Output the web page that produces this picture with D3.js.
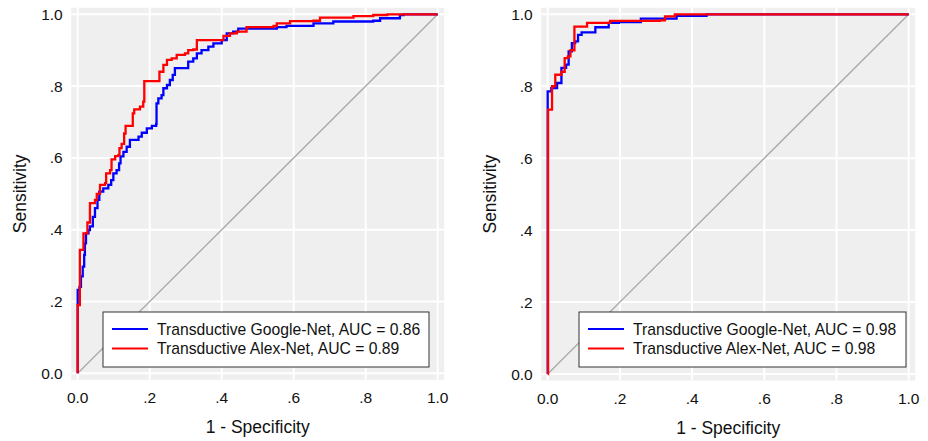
<!DOCTYPE html>
<html>
<head>
<meta charset="utf-8">
<script src="https://cdn.jsdelivr.net/npm/d3@7"></script>
<style>
  body { margin: 0; background: #fff; }
  svg { font-family: Arial, "Liberation Sans", sans-serif; }
</style>
</head>
<body>
<svg id="chart" width="928" height="441"></svg>
<script>
const svg = d3.select("#chart");

const TICKS = [0, 0.2, 0.4, 0.6, 0.8, 1.0];
const TICK_LABELS = ["0.0", ".2", ".4", ".6", ".8", "1.0"];
const SERIES_NAMES = ["Transductive Google-Net", "Transductive Alex-Net"];
const COLORS = ["#0000ff", "#ff0000"];

// left panel: AUC labels, then ROC points [1 - specificity, sensitivity]
const leftAUC = ["0.86", "0.89"];
const leftGoogle = [
    [0, 0], [0, 0.232], [0.005, 0.241], [0.009, 0.27], [0.014, 0.297], [0.018, 0.33],
    [0.02, 0.362], [0.023, 0.39], [0.03, 0.399], [0.034, 0.409], [0.042, 0.436],
    [0.048, 0.46], [0.055, 0.483], [0.06, 0.506], [0.071, 0.515], [0.085, 0.525],
    [0.093, 0.538], [0.099, 0.557], [0.108, 0.566], [0.115, 0.585], [0.119, 0.604],
    [0.127, 0.617], [0.136, 0.631], [0.145, 0.65], [0.169, 0.659], [0.178, 0.67],
    [0.192, 0.682], [0.206, 0.689], [0.218, 0.695], [0.219, 0.752], [0.224, 0.766],
    [0.233, 0.775], [0.238, 0.794], [0.248, 0.803], [0.256, 0.817], [0.264, 0.831],
    [0.27, 0.85], [0.298, 0.85], [0.307, 0.868], [0.321, 0.877], [0.331, 0.891],
    [0.344, 0.9], [0.363, 0.91], [0.377, 0.919], [0.4, 0.928], [0.414, 0.947],
    [0.432, 0.952], [0.446, 0.96], [0.553, 0.964], [0.58, 0.968], [0.655, 0.975],
    [0.71, 0.98], [0.821, 0.982], [0.84, 0.989], [0.895, 0.998], [0.905, 1], [1, 1]
];
const leftAlex = [
    [0, 0], [0, 0.19], [0.006, 0.344], [0.016, 0.39], [0.027, 0.42], [0.034, 0.474],
    [0.048, 0.483], [0.053, 0.5], [0.062, 0.525], [0.076, 0.53], [0.079, 0.557],
    [0.09, 0.566], [0.094, 0.596], [0.104, 0.605], [0.113, 0.608], [0.116, 0.627],
    [0.122, 0.639], [0.129, 0.668], [0.133, 0.689], [0.145, 0.689], [0.153, 0.724],
    [0.157, 0.735], [0.173, 0.743], [0.182, 0.757], [0.185, 0.814], [0.224, 0.814],
    [0.227, 0.84], [0.238, 0.859], [0.248, 0.873], [0.261, 0.877], [0.275, 0.887],
    [0.298, 0.891], [0.307, 0.9], [0.321, 0.902], [0.331, 0.928], [0.395, 0.928],
    [0.405, 0.94], [0.423, 0.947], [0.442, 0.952], [0.469, 0.964], [0.544, 0.968],
    [0.553, 0.975], [0.59, 0.981], [0.655, 0.982], [0.673, 0.991], [0.766, 0.995],
    [0.821, 0.998], [0.86, 1], [1, 1]
];

// right panel
const rightAUC = ["0.98", "0.98"];
const rightGoogle = [
    [0, 0], [0, 0.786], [0.01, 0.795], [0.026, 0.809], [0.038, 0.851], [0.051, 0.86],
    [0.058, 0.897], [0.067, 0.92], [0.076, 0.925], [0.084, 0.943], [0.094, 0.95],
    [0.132, 0.964], [0.169, 0.976], [0.197, 0.978], [0.258, 0.988], [0.357, 0.996],
    [0.44, 1], [1, 1]
];
const rightAlex = [
    [0, 0], [0.001, 0.735], [0.012, 0.8], [0.021, 0.832], [0.038, 0.84], [0.047, 0.878],
    [0.056, 0.883], [0.063, 0.9], [0.074, 0.966], [0.109, 0.976], [0.173, 0.982],
    [0.311, 0.983], [0.325, 0.994], [0.352, 1], [1, 1]
];

const panels = [
    { left: 77.7, top: 14.3, w: 360, h: 359, auc: leftAUC, series: [leftGoogle, leftAlex],
      legend: { x: 103, y: 312, w: 326, h: 55 } },
    { left: 547.7, top: 14.3, w: 361, h: 359.7, auc: rightAUC, series: [rightGoogle, rightAlex],
      legend: { x: 579, y: 312, w: 327, h: 55 } }
];

function drawPanel(p) {
    const x = d3.scaleLinear().domain([0, 1]).range([p.left, p.left + p.w]);
    const y = d3.scaleLinear().domain([0, 1]).range([p.top + p.h, p.top]);
    const g = svg.append("g");
    const pad = 6.5;

    g.append("rect")
        .attr("x", x(0) - pad).attr("y", y(1) - pad)
        .attr("width", p.w + 2 * pad).attr("height", p.h + 2 * pad)
        .attr("fill", "#efefef");

    // white grid
    g.selectAll(".gx").data(TICKS).join("line")
        .attr("x1", d => x(d)).attr("x2", d => x(d))
        .attr("y1", y(1) - pad).attr("y2", y(0) + pad)
        .attr("stroke", "#fff").attr("stroke-width", 2);
    g.selectAll(".gy").data(TICKS).join("line")
        .attr("y1", d => y(d)).attr("y2", d => y(d))
        .attr("x1", x(0) - pad).attr("x2", x(1) + pad)
        .attr("stroke", "#fff").attr("stroke-width", 2);

    // reference diagonal
    g.append("line")
        .attr("x1", x(0)).attr("y1", y(0)).attr("x2", x(1)).attr("y2", y(1))
        .attr("stroke", "#a8a8a8").attr("stroke-width", 1.3);

    const line = d3.line().x(d => x(d[0])).y(d => y(d[1])).curve(d3.curveStepAfter);
    p.series.forEach((s, i) => {
        g.append("path").datum(s)
            .attr("d", line)
            .attr("fill", "none")
            .attr("stroke", COLORS[i])
            .attr("stroke-width", 2.3);
    });

    // tick labels
    g.selectAll(".xt").data(TICKS).join("text")
        .attr("x", d => x(d)).attr("y", y(0) + 30)
        .attr("text-anchor", "middle")
        .attr("font-size", 15.5).attr("fill", "#111")
        .text((d, i) => TICK_LABELS[i]);
    g.selectAll(".yt").data(TICKS).join("text")
        .attr("x", x(0) - 15).attr("y", d => y(d))
        .attr("dy", "0.36em")
        .attr("text-anchor", "end")
        .attr("font-size", 15.5).attr("fill", "#111")
        .text((d, i) => TICK_LABELS[i]);

    // axis titles
    g.append("text")
        .attr("x", x(0.5)).attr("y", y(0) + 60)
        .attr("text-anchor", "middle")
        .attr("font-size", 17.5).attr("fill", "#111")
        .text("1 - Specificity");
    g.append("text")
        .attr("transform", `translate(${x(0) - 52},${y(0.5)}) rotate(-90)`)
        .attr("text-anchor", "middle")
        .attr("font-size", 17.5).attr("fill", "#111")
        .text("Sensitivity");

    // legend
    const L = p.legend;
    const lg = g.append("g");
    lg.append("rect")
        .attr("x", L.x).attr("y", L.y).attr("width", L.w).attr("height", L.h)
        .attr("fill", "#fff").attr("stroke", "#333").attr("stroke-width", 1);
    SERIES_NAMES.forEach((name, i) => {
        const ly = L.y + 17 + i * 19.5;
        lg.append("line")
            .attr("x1", L.x + 9).attr("x2", L.x + 45)
            .attr("y1", ly).attr("y2", ly)
            .attr("stroke", COLORS[i]).attr("stroke-width", 2);
        lg.append("text")
            .attr("x", L.x + 54).attr("y", ly).attr("dy", "0.36em")
            .attr("font-size", 15.7).attr("fill", "#111")
            .text(`${name}, AUC = ${p.auc[i]}`);
    });
}

panels.forEach(drawPanel);
</script>
</body>
</html>
